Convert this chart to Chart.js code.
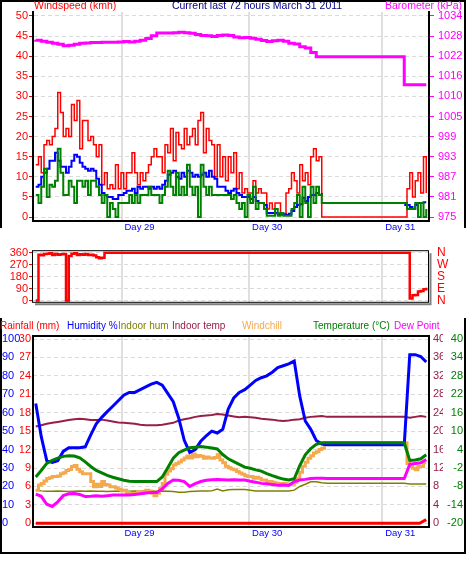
<!DOCTYPE html>
<html>
<head>
<meta charset="utf-8">
<script src="https://cdn.jsdelivr.net/npm/chart.js@4.4.1/dist/chart.umd.min.js"></script>
<style>
  body { margin: 0; background: #fff; }
  #wrap { position: relative; width: 466px; height: 563px; }
  canvas { position: absolute; left: 0; }
</style>
</head>
<body>
<div id="wrap">
  <canvas id="wind" width="466" height="236" style="top:0"></canvas>
  <canvas id="dir" width="466" height="82" style="top:236px"></canvas>
  <canvas id="temp" width="466" height="245" style="top:318px"></canvas>
</div>
<script>
// x axis: hours over the last 72 hours
const dayTicks = [16.1, 39.3, 63.5];
const dayLabels = ['Day 29', 'Day 30', 'Day 31'];

// top panel: wind (kmh), one reading every half hour from hour 0.5
const windGust = [
  13,15,11,18,19,18,20,22,31,26, 20,22,20,28,24,29,17,24,24,19,
  20,18,15,18,8,11,7,8,7,13, 7,11,7,11,11,16,11,8,11,9,
  11,13,15,17,15,15,11,18,16,22, 14,21,18,17,22,18,20,22,18,24,
  26,16,22,19,18,10,18,10,15,9, 15,11,16,7,11,6,7,6,6,9,
  6,7,6,6,2,3.5,2,3.5,3.5,0.5, 0.5,6,7,11,9,6,13,9,11,8,
  15,17,14,15,
  0,0,0,0,0,0,0,0,0,0, 0,0,0,0,0,0,0,0,0,0, 0,0,0,0,0,0,0,0,0,0, 0,
  7,11,5,9,11,6,15,6
];
const windAvg = [
  7.5,8,10,11,12,14,14,16,14,12.5, 12.5,11,12.5,14,15.5,15,13.5,12.5,12,11.5,
  12,11.5,9.5,8,6,5.5,5,5,4.5,4.5, 5.5,5.5,6,6.5,6.5,7,6,7.5,7,7.5,
  7.5,7,7.5,7,7.5,7,8,9,10.5,11, 11.5,10,9.5,11,10,11.5,11,10,10.5,10,
  10.5,11,10,11.5,10,9.5,7.5,7.5,7.5,6.5, 6,6.5,7,6,5.5,5,5,5,4.5,5,
  4,3.5,3.5,3,1,1,1,1,0.7,1, 0.7,0.5,0.8,1.5,2.5,3,3.2,4.8,4,5,
  5.5,5.5,6,5.5,6,
  null,null,null,null,null,null,null,null,null,null,
  null,null,null,null,null,null,null,null,null,null,
  null,null,null,null,null,null,null,null,null,
  3,3,2.5,2,3,3.5,3.5,3.7,3.7
];
const windLow = [
  5.5,3.5,7.5,12,5,8,7.5,9,17,11, 5.5,5.5,9,7.5,3.5,9,9,7.5,9,5.5,
  9,9,7.5,5.5,3.5,5.5,0,3.5,2,0, 3.5,3.5,3.5,3.5,5.5,3.5,5.5,3.5,5.5,5.5,
  5.5,7.5,5.5,5.5,5.5,3.5,5.5,7.5,11.5,7.5, 5.5,11,5.5,7.5,5.5,13,7.5,5.5,7.5,0,
  13,7.5,5.5,7.5,5.5,5.5,5.5,5.5,5.5,5.5, 5.5,4.5,5.5,3.5,2,3.5,0,5.5,3.5,7.5,
  2,3.5,3.5,2,0.3,0.3,0.3,2,0.3,1, 0.3,0.3,0.3,2,3.5,5.5,0,7.5,3.5,0,
  7.5,3.5,7.5,5.5,3.5,
  3.5,3.5,3.5,3.5,3.5,3.5,3.5,3.5,3.5,3.5, 3.5,3.5,3.5,3.5,3.5,3.5,3.5,3.5,3.5,3.5,
  3.5,3.5,3.5,3.5,3.5,3.5,3.5,3.5,3.5,3.5,
  2,2,2,3.5,0,3.5,0,2
];
const windTicks = [0, 5, 10, 15, 20, 25, 30, 35, 40, 45, 50];

// barometer (kPa), hourly from hour 0.5
const barometer = [
  1027.0,1026.9,1026.6,1026.3,1026.0,1025.7,1025.3,1025.4,1025.7,1026.0,
  1026.1,1026.2,1026.2,1026.3,1026.3,1026.3,1026.4,1026.5,1026.4,1026.6,
  1026.9,1027.4,1028.2,1029.0,1029.0,1029.0,1029.1,1029.2,1029.1,1028.9,
  1028.6,1028.3,1028.2,1028.0,1028.3,1028.4,1028.3,1027.8,1027.6,1027.7,
  1027.5,1027.2,1026.8,1026.5,1026.7,1026.9,1026.6,1026.0,1025.8,1025.0,
  1024.6,1023.3,1022.0,
  1022.0,1022.0,1022.0,1022.0,1022.0,1022.0,1022.0,1022.0,1022.0,1022.0,
  1022.0,1022.0,1022.0,1022.0,1022.0,
  1013.8,1013.8,1013.8,1013.8
];
const baroTicks = [975, 980.9, 986.8, 992.7, 998.6, 1004.5, 1010.4, 1016.3, 1022.2, 1028.1, 1034];
const baroLabels = ['975', '981', '987', '993', '999', '1005', '1010', '1016', '1022', '1028', '1034'];

// middle panel: wind direction (degrees)
const dirHours = [0.5,1,1.5,2,2.5,3,3.5,4,4.5,5,5.5,6,6.5,7,7.5,8,8.5,9,9.5,10,10.5,11,11.5,12,12.5,13,
  68,68.5,69,69.5,70,70.5,71,71.5];
const windDir = [0,345,340,350,352,355,342,350,345,348,350,0,335,352,356,342,348,344,350,343,345,338,325,318,322,360,
  360,15,40,42,68,72,85,97];
const dirTicks = [0, 90, 180, 270, 360];
const dirLabels = ['N', 'E', 'S', 'W', 'N'];

// bottom panel, hourly from hour 0.5
const humidity = [
  65,47,34,33,34,39,41,41,41,41.5, 48,54,57.5,60.6,63.5,66.5,69.5,71,71,72.5,
  74,75.5,76.5,75,70.5,66,57,45,38.5,40, 44.5,47.5,50,49,51,62,68,71,72.5,75,
  77.5,79,80,82,84.5,85.5,86.5,88,69,55.5, 51,45,43,
  42.6,42.6,42.6,42.6,42.6,42.6,42.6,42.6,42.6,42.6,42.6,42.6,42.6,42.6,42.6,
  91.5,91.5,90.5,87.5
];
const temperature = [
  -4.9,-2.8,-0.5,0.5,1.2,1.8,2,1.9,1.3,0, -1.5,-2.8,-3.6,-4.4,-5,-5.5,-6,-6.3,-6.4,-6.4,
  -6.4,-6.4,-6.4,-4.9,-1.9,1.2,3,3.8,4.6,4.8, 5,4.8,4.5,4.2,2.4,1,0.1,-0.8,-1.7,-2.1,
  -2.6,-3,-3.8,-4.5,-5.1,-5.6,-5.9,-5.5,-1.2,2.3, 4.3,5.7,6.2,
  6.2,6.2,6.2,6.2,6.2,6.2,6.2,6.2,6.2,6.2,6.2,6.2,6.2,6.2,6.2,
  0.5,0.6,1,2.3
];
const indoorTemp = [
  21,21.3,21.6,21.8,22,22.2,22.4,22.6,22.7,22.6, 22.4,22.4,22.5,22.3,22.1,21.9,21.8,21.7,21.6,21.4,
  21.3,21.3,21.3,21.4,21.6,21.8,22.3,22.6,22.8,23.1, 23.3,23.4,23.5,23.7,23.6,23.4,23.2,23,23.1,23,
  22.9,22.7,22.6,22.5,22.3,22.2,22.3,22.5,22.6,22.9, 23.1,23.2,23.3,
  23.1,23.1,23.1,23.1,23.1,23.1,23.1,23.1,23.1,23.1,23.1,23.1,23.1,23.1,23.1,
  22.9,23.1,23.3,23.1
];
const indoorHum = [
  18,17.6,17.4,17.4,17.5,17.4,17.3,17.4,17.5,17.4, 17.5,17.4,17.4,17.3,17.4,17.5,17.4,17.4,17.5,17.4,
  17.5,17.5,17.4,17.5,17.4,17.3,16.8,16.9,17.2,17.4, 17.5,17.5,17.6,18.6,17.6,18.2,18.4,18.3,18.3,18,
  17.5,17.5,17.5,17.5,17.5,17.5,17.5,18,20,21.2, 22.5,22.6,22,
  21.7,21.7,21.7,21.7,21.7,21.7,21.7,21.7,21.7,21.7,21.7,21.7,21.7,21.7,21.7,
  21.3,21.3,21.3,21.3
];
const dewPoint = [
  -10.5,-11.2,-13.8,-14.5,-13,-11,-10.4,-10.3,-10.6,-11.3, -11.2,-11,-11.2,-11,-10.8,-10.8,-10.8,-10.8,-10.6,-10.4,
  -10.1,-10,-10,-8.8,-7,-5.9,-6,-6.4,-8,-7.1, -6.4,-6,-5.8,-5.7,-5.8,-5.9,-5.8,-5.9,-5.9,-6.3,
  -6.6,-7,-7.1,-7.4,-7.6,-7.5,-7.7,-6.4,-5.9,-5.7, -5.4,-5.3,-5.3,
  -5.4,-5.4,-5.4,-5.4,-5.4,-5.4,-5.4,-5.4,-5.4,-5.4,-5.4,-5.4,-5.4,-5.4,-5.4,
  -0.8,-0.5,-0.3,0.8
];
// windchill, every half hour from hour 0.5
const windchill = [
  -9.2,-7.5,-7,-6.2,-5.4,-5.2,-4.8,-4.8,-4.6,-3.9, -3.5,-2.8,-2.5,-1.5,-1.2,-2.4,-3.2,-3.9,-3.9,-3.9,
  -6.4,-8.1,-7.3,-8,-6.4,-7.4,-7.5,-8.1,-8.1,-8.5, -8.9,-9.4,-9.2,-10,-10.2,-10.2,-10.2,-9.7,-10.2,-9.9,
  -9.2,-9.5,-10.2,-11,-10.2,-8.7,-7,-4,-3,-2.2, -1,-0.5,0,0.6,1.3,1.9,1.3,2.6,1.7,2.1,
  1.8,1.2,1.6,1.3,1.2,1.4,2.3,0.6,-0.3,-1.4, -1.9,-2.3,-2.6,-3.1,-3.6,
  -4,-4.5,-4.8,-4.8,-5.3,-5,-5.3,-5.9,-5.9,-6.4, -6.4,-6.6,-6.9,-7,-7,-7,-7.2,-7.4,-7.3,-6.6,
  -5.5,-3.4,-1.4,-0.1,1.2,2,2.9,3.3,4,4.4,
  6.2,6.2,6.2,6.2,6.2,6.2,6.2,6.2,6.2,6.2, 6.2,6.2,6.2,6.2,6.2,6.2,6.2,6.2,6.2,6.2,
  6.2,6.2,6.2,6.2,6.2,6.2,6.2,6.2,6.2,6.2,
  -0.5,-1.5,-2.1,-2.6,-1.5,-1.5,-0.3,-0.3
];
const rainHours = [0.5, 70.3, 71.5];
const rainfall = [0, 0, 0.6];
const humTicks = [0, 10, 20, 30, 40, 50, 60, 70, 80, 90, 100];
const rainTicks = [0, 3, 6, 9, 12, 15, 18, 21, 24, 27, 30];
const indoorTicks = [0, 4, 8, 12, 16, 20, 24, 28, 32, 36, 40];
const tempTicks = [-20, -14, -8, -2, 4, 10, 16, 22, 28, 34, 40];

const windHours = windGust.map((_, i) => 0.5 + i * 0.5);
const hourly = barometer.map((_, i) => 0.5 + i);

const FONT = "'Liberation Sans', Arial, sans-serif";
Chart.defaults.font.family = FONT;
Chart.defaults.font.size = 11;
Chart.defaults.elements.point.radius = 0;
Chart.defaults.elements.line.borderCapStyle = 'butt';

const pts = (hs, vs) => vs.map((v, i) => ({ x: hs[i], y: v }));
const fixed = list => s => { s.ticks = list.map(v => ({ value: v })); };

function dayAxis(show, h) {
  return {
    type: 'linear', min: 0, max: 72,
    afterBuildTicks: fixed(dayTicks),
    afterFit: s => { s.height = h; },
    grid: { color: '#e2dede', lineWidth: 2, drawTicks: false },
    border: { display: show, color: '#000', width: 2 },
    ticks: {
      display: show, color: '#0000ff', font: { size: 9.5 }, labelOffset: 18, padding: 1,
      maxRotation: 0, autoSkip: false, callback: (v, i) => dayLabels[i]
    }
  };
}

function decor(texts, lines, box) {
  return {
    id: 'decor',
    afterDraw(chart) {
      const ctx = chart.ctx, a = chart.chartArea;
      ctx.save();
      if (box) {
        ctx.strokeStyle = '#808080';
        ctx.lineWidth = 2;
        ctx.beginPath();
        ctx.moveTo(a.left + 2, a.bottom + 1.5);
        ctx.lineTo(a.right + 1.5, a.bottom + 1.5);
        ctx.lineTo(a.right + 1.5, a.top + 2);
        ctx.stroke();
        ctx.strokeStyle = '#000';
        ctx.lineWidth = 1;
        ctx.strokeRect(a.left - 0.5, a.top - 0.5, a.right - a.left, a.bottom - a.top);
      }
      lines.forEach(l => {
        ctx.strokeStyle = '#000';
        ctx.lineWidth = 2;
        ctx.beginPath();
        ctx.moveTo(l[0], l[1]);
        ctx.lineTo(l[2], l[3]);
        ctx.stroke();
      });
      texts.forEach(t => {
        ctx.font = t[4] + 'px ' + FONT;
        ctx.fillStyle = t[3];
        ctx.textAlign = t[5] || 'left';
        ctx.textBaseline = 'middle';
        ctx.fillText(t[0], t[1], t[2]);
      });
      ctx.restore();
    }
  };
}

const common = {
  responsive: false, animation: false, devicePixelRatio: 1, events: [],
  plugins: { legend: { display: false }, tooltip: { enabled: false } }
};

new Chart(document.getElementById('wind'), {
  type: 'line',
  data: {
    datasets: [
      { data: pts(windHours, windLow), borderColor: '#008000', borderWidth: 2, stepped: true, yAxisID: 'y', order: 0 },
      { data: pts(windHours, windAvg), borderColor: '#0000ff', borderWidth: 2, stepped: true, yAxisID: 'y', order: 1 },
      { data: pts(windHours, windGust), borderColor: '#ff0000', borderWidth: 1.5, stepped: true, yAxisID: 'y', order: 2 },
      { data: pts(hourly, barometer), borderColor: '#ff00ff', borderWidth: 3, stepped: 'after', yAxisID: 'y1', order: 3 }
    ]
  },
  options: {
    ...common,
    layout: { padding: { top: 12, left: 0, right: 0, bottom: 0 } },
    scales: {
      x: dayAxis(true, 15),
      y: {
        position: 'left', min: -0.995, max: 50.995,
        afterBuildTicks: fixed(windTicks),
        afterFit: s => { s.width = 33; },
        grid: { color: '#dadada', tickColor: '#ff0000', tickLength: 4, tickWidth: 1 },
        border: { color: '#000', width: 2, dash: [4, 3] },
        ticks: { color: '#ff0000', padding: 1, autoSkip: false }
      },
      y1: {
        position: 'right', min: 973.83, max: 1035.17,
        afterBuildTicks: fixed(baroTicks),
        afterFit: s => { s.width = 37; },
        grid: { drawOnChartArea: false, tickColor: '#ff00ff', tickLength: 5, tickWidth: 1 },
        border: { color: '#000', width: 2 },
        ticks: { color: '#ff00ff', padding: 4, autoSkip: false, callback: (v, i) => baroLabels[i] }
      }
    }
  },
  plugins: [decor([
    ['Windspeed (kmh)', 34, 6.5, '#ff0000', 10.5],
    ['Current last 72 hours March 31 2011', 257, 6.5, '#000080', 10.5, 'center'],
    ['Barometer (kPa)', 462, 6.5, '#ff00ff', 10.5, 'right']
  ], [[1, 0, 1, 228], [0, 1, 466, 1], [465, 0, 465, 228]], false)]
});

new Chart(document.getElementById('dir'), {
  type: 'line',
  data: {
    datasets: [
      { data: pts(dirHours, windDir), borderColor: '#ff0000', borderWidth: 2.5, stepped: true }
    ]
  },
  options: {
    ...common,
    layout: { padding: { top: 7, left: 0, right: 0, bottom: 0 } },
    scales: {
      x: dayAxis(false, 4),
      y: {
        position: 'left', min: -16.36, max: 370.9,
        afterBuildTicks: fixed(dirTicks),
        afterFit: s => { s.width = 33; },
        grid: { color: '#dadada', tickColor: '#ff0000', tickLength: 4, tickWidth: 1 },
        border: { display: false, dash: [4, 3] },
        ticks: { color: '#ff0000', padding: 1, autoSkip: false }
      },
      y1: {
        position: 'right', min: -16.36, max: 370.9,
        afterBuildTicks: fixed(dirTicks),
        afterFit: s => { s.width = 37; },
        grid: { drawOnChartArea: false, drawTicks: false },
        border: { display: false },
        ticks: { color: '#ff0000', padding: 8, font: { size: 12 }, autoSkip: false, callback: (v, i) => dirLabels[i] }
      }
    }
  },
  plugins: [decor([], [], true)]
});

new Chart(document.getElementById('temp'), {
  type: 'line',
  data: {
    datasets: [
      { data: pts(rainHours, rainfall), borderColor: '#ff0000', borderWidth: 3, yAxisID: 'rain', order: 0 },
      { data: pts(hourly, temperature), borderColor: '#008000', borderWidth: 3, yAxisID: 'temp', order: 1 },
      { data: pts(hourly, humidity), borderColor: '#0000ff', borderWidth: 3, yAxisID: 'hum', order: 2 },
      { data: pts(hourly, dewPoint), borderColor: '#ff00ff', borderWidth: 3, yAxisID: 'temp', order: 3 },
      { data: pts(windHours, windchill), borderColor: '#f5a94e', borderWidth: 3, stepped: true, yAxisID: 'temp', order: 4 },
      { data: pts(hourly, indoorTemp), borderColor: '#971e48', borderWidth: 2, yAxisID: 'indoor', order: 5 },
      { data: pts(hourly, indoorHum), borderColor: '#808000', borderWidth: 1.5, yAxisID: 'hum', order: 6 }
    ]
  },
  options: {
    ...common,
    layout: { padding: { top: 18, left: 2, right: 3, bottom: 20 } },
    scales: {
      x: dayAxis(true, 16),
      hum: {
        position: 'left', weight: 2, min: -2, max: 101.63,
        afterBuildTicks: fixed(humTicks),
        afterFit: s => { s.width = 18; },
        grid: { color: '#dadada', drawTicks: false },
        border: { display: false, dash: [4, 3] },
        ticks: { color: '#0000ff', crossAlign: 'far', padding: 0, autoSkip: false }
      },
      rain: {
        position: 'left', weight: 1, min: -0.6, max: 30.49,
        afterBuildTicks: fixed(rainTicks),
        afterFit: s => { s.width = 13; },
        grid: { drawOnChartArea: false, drawTicks: false },
        border: { color: '#000', width: 2 },
        ticks: { color: '#ff0000', padding: 2, autoSkip: false }
      },
      indoor: {
        position: 'right', weight: 1, min: -0.8, max: 40.65,
        afterBuildTicks: fixed(indoorTicks),
        afterFit: s => { s.width = 14; },
        grid: { drawOnChartArea: false, drawTicks: false },
        border: { color: '#000', width: 2 },
        ticks: { color: '#971e48', padding: 4, autoSkip: false }
      },
      temp: {
        position: 'right', weight: 2, min: -21.2, max: 40.98,
        afterBuildTicks: fixed(tempTicks),
        afterFit: s => { s.width = 20; },
        grid: { drawOnChartArea: false, drawTicks: false },
        border: { display: false },
        ticks: { color: '#008000', crossAlign: 'far', padding: 0, autoSkip: false }
      }
    }
  },
  plugins: [decor([
    ['Rainfall (mm)', 0, 8, '#ff0000', 10],
    ['Humidity %', 67, 8, '#0000ff', 10],
    ['Indoor hum', 118, 8, '#808000', 10],
    ['Indoor temp', 172, 8, '#971e48', 10],
    ['Windchill', 242, 8, '#f5a94e', 10],
    ['Temperature (°C)', 313, 8, '#008000', 10],
    ['Dew Point', 394, 8, '#ff00ff', 10]
  ], [[33, 18, 429, 18], [1, 0, 1, 236], [0, 235, 466, 235], [465, 0, 465, 236]], false)]
});
</script>
</body>
</html>
